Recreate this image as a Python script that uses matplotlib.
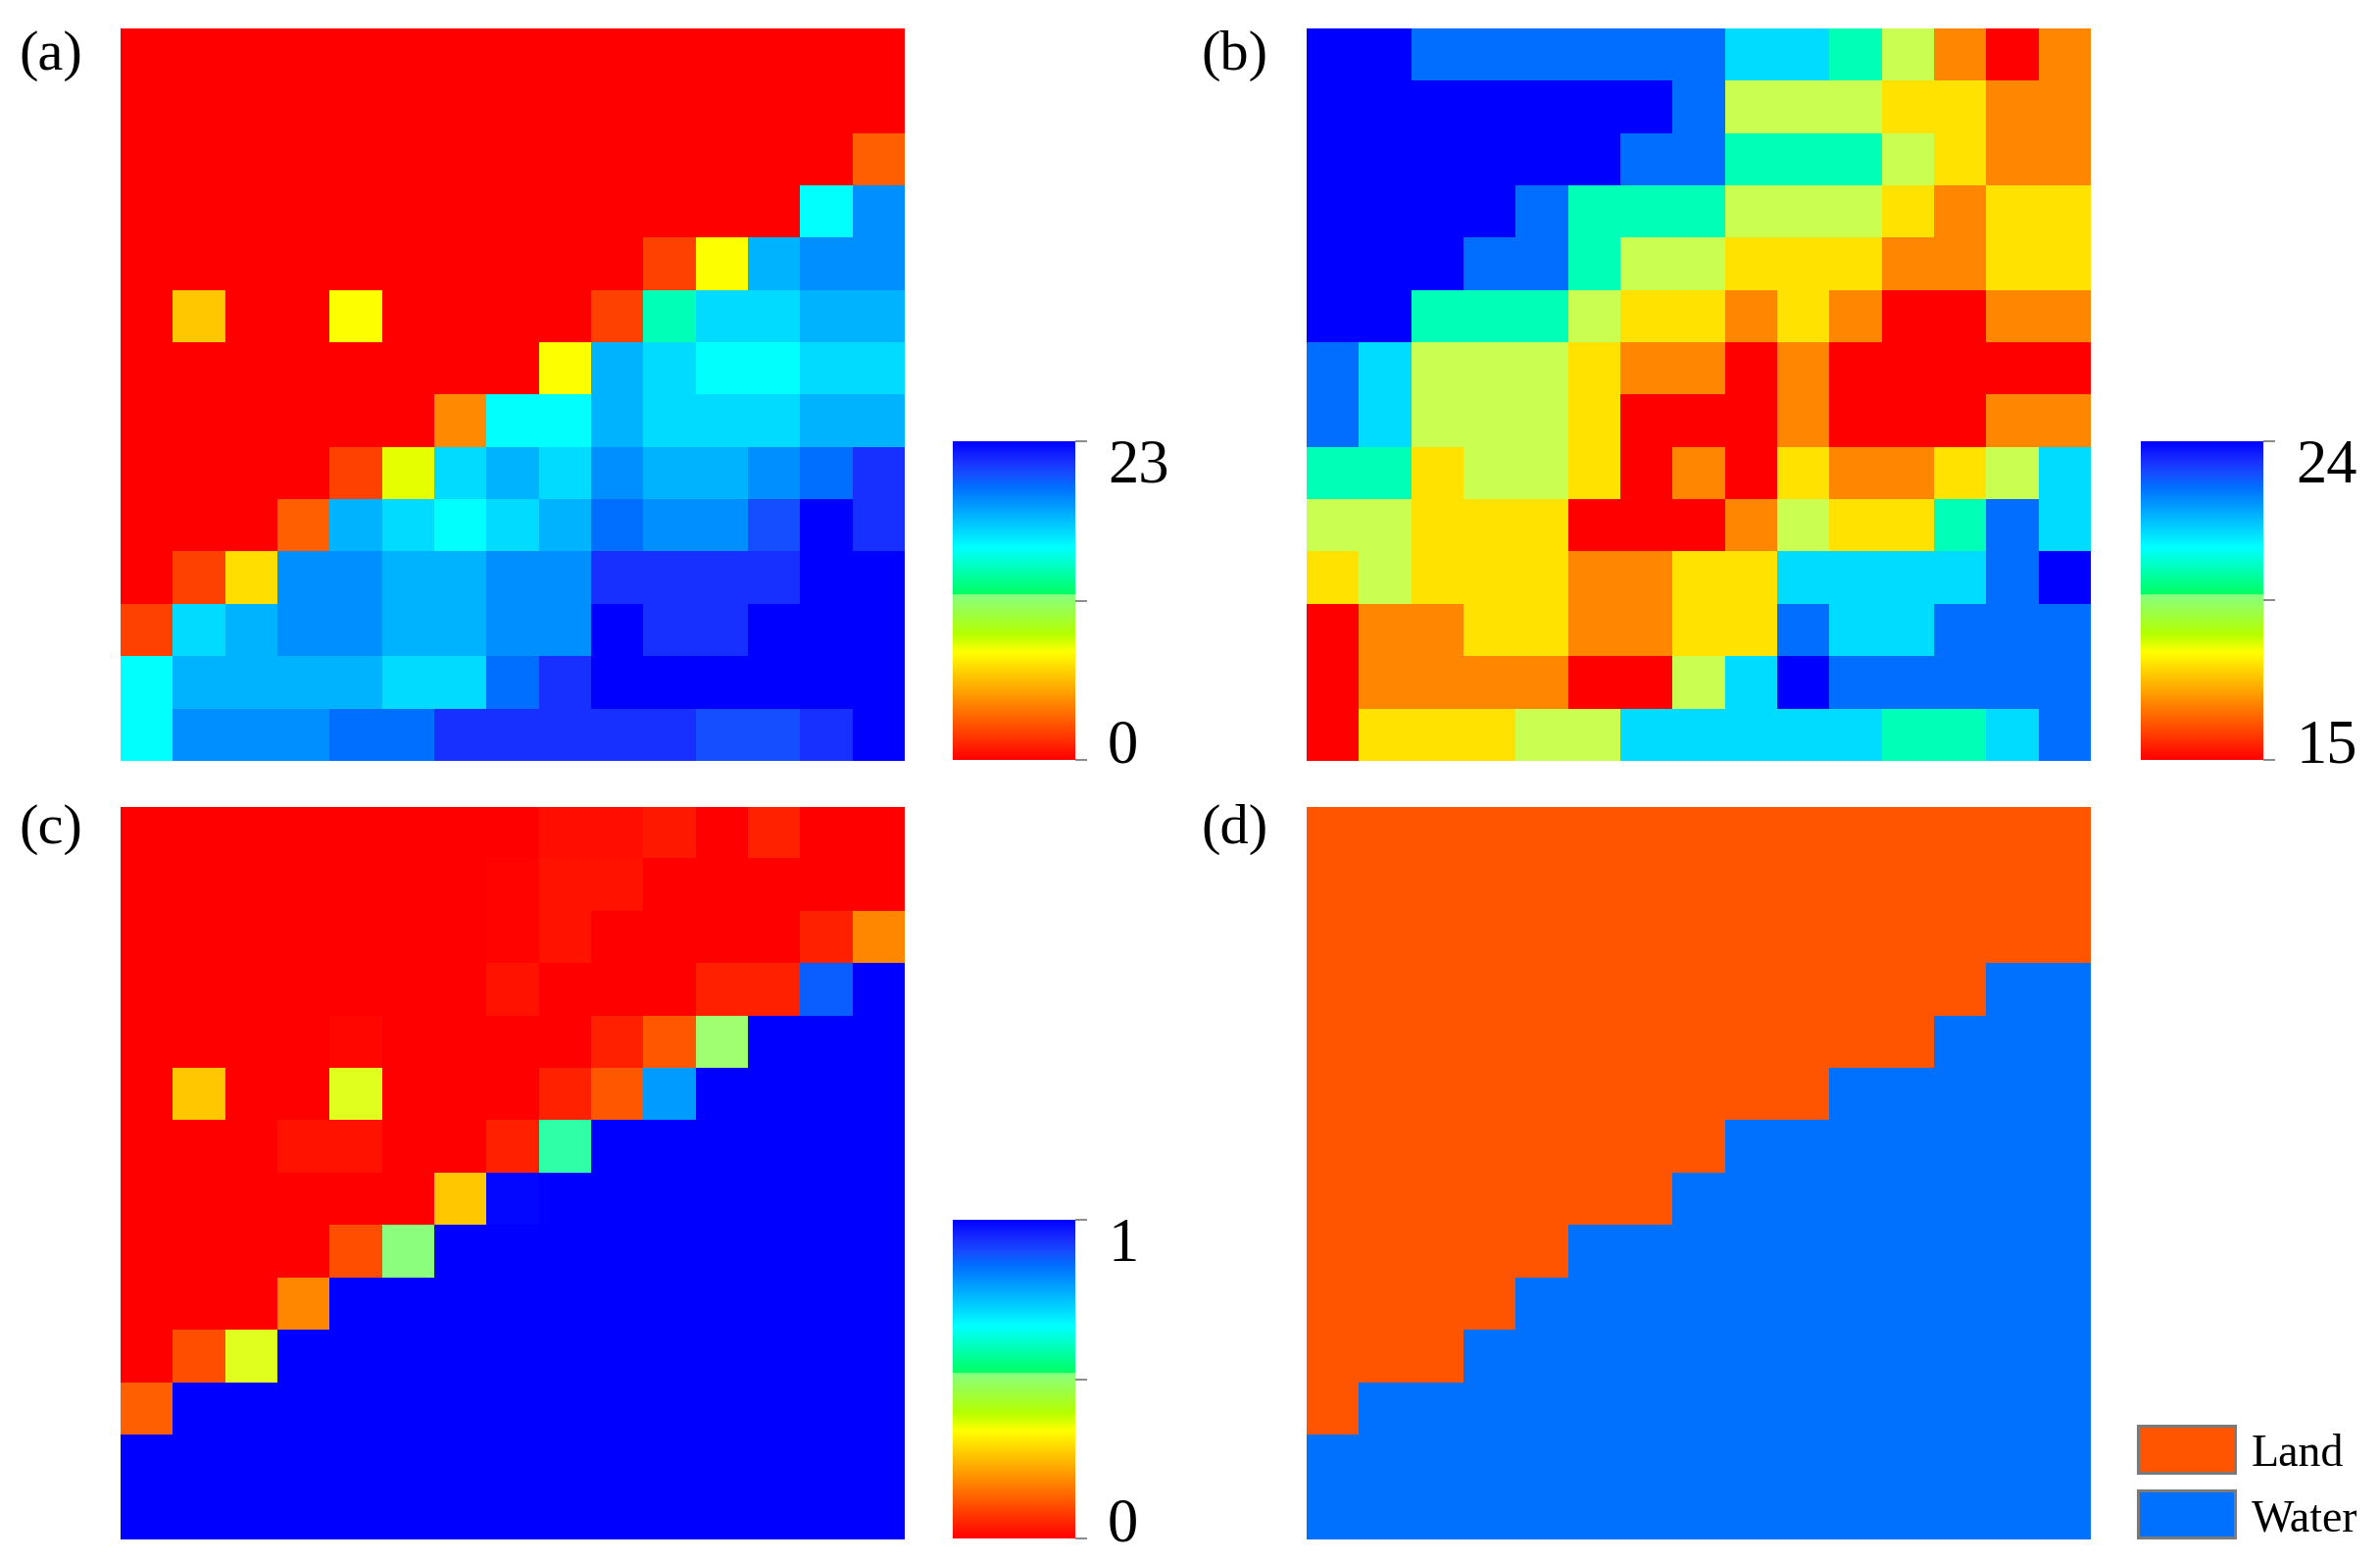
import matplotlib
matplotlib.use("Agg")
import numpy as np
import matplotlib.pyplot as plt
from matplotlib.colors import LinearSegmentedColormap, ListedColormap, Normalize
from matplotlib.cm import ScalarMappable
from matplotlib.patches import Rectangle

plt.rcParams['font.family'] = ['Liberation Serif', 'DejaVu Serif']

W, H = 2428, 1593

panel_a = [
    [0]*15,
    [0]*15,
    [0,0,0,0,0,0,0,0,0,0,0,0,0,0,2.9],
    [0,0,0,0,0,0,0,0,0,0,0,0,0,15.3,18.7],
    [0,0,0,0,0,0,0,0,0,0,2.0,7.8,17.6,18.7,18.7],
    [0,6.1,0,0,7.8,0,0,0,0,2.0,13.8,16.4,16.4,17.6,17.6],
    [0,0,0,0,0,0,0,0,7.8,17.6,16.4,15.3,15.3,16.4,16.4],
    [0,0,0,0,0,0,4.2,15.3,15.3,17.6,16.4,16.4,16.4,17.6,17.6],
    [0,0,0,0,2.0,8.2,16.4,17.6,16.4,18.7,17.6,17.6,18.7,19.65,21.55],
    [0,0,0,2.9,17.6,16.4,15.3,16.4,17.6,19.65,18.7,18.7,20.6,23,21.55],
    [0,2.0,6.8,18.7,18.7,17.6,17.6,18.7,18.7,21.55,21.55,21.55,21.55,23,23],
    [2.0,16.4,17.6,18.7,18.7,17.6,17.6,18.7,18.7,23,21.55,21.55,23,23,23],
    [15.3,17.6,17.6,17.6,17.6,16.4,16.4,19.65,21.55,23,23,23,23,23,23],
    [15.3,18.7,18.7,18.7,19.65,19.65,21.55,21.55,21.55,21.55,21.55,20.6,20.6,21.55,23],
]

panel_b = [
    [24,24,22.7,22.7,22.7,22.7,22.7,22.7,21.4,21.4,20.4,18.8,16.6,15,16.6],
    [24,24,24,24,24,24,24,22.7,18.8,18.8,18.8,17.7,17.7,16.6,16.6],
    [24,24,24,24,24,24,22.7,22.7,20.4,20.4,20.4,18.8,17.7,16.6,16.6],
    [24,24,24,24,22.7,20.4,20.4,20.4,18.8,18.8,18.8,17.7,16.6,17.7,17.7],
    [24,24,24,22.7,22.7,20.4,18.8,18.8,17.7,17.7,17.7,16.6,16.6,17.7,17.7],
    [24,24,20.4,20.4,20.4,18.8,17.7,17.7,16.6,17.7,16.6,15,15,16.6,16.6],
    [22.7,21.4,18.8,18.8,18.8,17.7,16.6,16.6,15,16.6,15,15,15,15,15],
    [22.7,21.4,18.8,18.8,18.8,17.7,15,15,15,16.6,15,15,15,16.6,16.6],
    [20.4,20.4,17.7,18.8,18.8,17.7,15,16.6,15,17.7,16.6,16.6,17.7,18.8,21.4],
    [18.8,18.8,17.7,17.7,17.7,15,15,15,16.6,18.8,17.7,17.7,20.4,22.7,21.4],
    [17.7,18.8,17.7,17.7,17.7,16.6,16.6,17.7,17.7,21.4,21.4,21.4,21.4,22.7,24],
    [15,16.6,16.6,17.7,17.7,16.6,16.6,17.7,17.7,22.7,21.4,21.4,22.7,22.7,22.7],
    [15,16.6,16.6,16.6,16.6,15,15,18.8,21.4,24,22.7,22.7,22.7,22.7,22.7],
    [15,17.7,17.7,17.7,18.8,18.8,21.4,21.4,21.4,21.4,21.4,20.4,20.4,21.4,22.7],
]

panel_c = [
    [0,0,0,0,0,0,0,0,.02,.02,.033,0,.045,0,0],
    [0,0,0,0,0,0,0,.005,.027,.027,0,0,0,0,0],
    [0,0,0,0,0,0,0,.005,.027,0,0,0,0,.043,.18],
    [0,0,0,0,0,0,0,.027,0,0,0,.043,.043,.875,1],
    [0,0,0,0,.01,0,0,0,0,.043,.117,.47,1,1,1],
    [0,.265,0,0,.36,0,0,0,.045,.117,.796,1,1,1,1],
    [0,0,0,.027,.027,0,0,.043,.58,1,1,1,1,1,1],
    [0,0,0,0,0,0,.265,.99,1,1,1,1,1,1,1],
    [0,0,0,0,.105,.51,1,1,1,1,1,1,1,1,1],
    [0,0,0,.18,1,1,1,1,1,1,1,1,1,1,1],
    [0,.105,.36,1,1,1,1,1,1,1,1,1,1,1,1],
    [.127,1,1,1,1,1,1,1,1,1,1,1,1,1,1],
    [1]*15,
    [1]*15,
]

land_columns = [15, 15, 15, 13, 12, 10, 8, 7, 5, 4, 3, 1, 0, 0]
class_names = ["Land", "Water"]
class_colors = ["#ff5500", "#0070ff"]

panel_labels = ["(a)", "(b)", "(c)", "(d)"]
range_a = (0, 23)
range_b = (15, 24)
range_c = (0, 1)

BASE_STOPS = [
    (0.0, "#ff0000"), (0.338, "#ffff00"), (0.395, "#b4ff00"), (0.517, "#88ff80"),
    (0.522, "#00ff64"), (0.667, "#00ffff"), (0.854, "#0070ff"), (0.895, "#1450ff"),
    (0.937, "#1830ff"), (1.0, "#0000ff"),
]


def make_cmap(extra=()):
    return LinearSegmentedColormap.from_list("rb", sorted(list(BASE_STOPS) + list(extra)), N=1024)


cmap_bar = make_cmap()
cmap_b_mesh = make_cmap([(0.42, "#ccff50")])
cmap_c_mesh = make_cmap([(0.36, "#e0ff20"), (0.47, "#a0ff70"), (0.58, "#30ffa8")])


def px_axes(fig, x0, y0, x1, y1):
    return fig.add_axes([x0 / W, 1 - y1 / H, (x1 - x0) / W, (y1 - y0) / H])


def heat(ax, data, cmap, norm):
    ax.imshow(np.array(data, dtype=float), cmap=cmap, norm=norm, aspect="auto", interpolation="nearest")
    ax.set_xticks([])
    ax.set_yticks([])
    for s in ax.spines.values():
        s.set_visible(False)


def bar(fig, x0, y0, x1, y1, vrange, top, bottom):
    cax = px_axes(fig, x0, y0, x1, y1)
    norm = Normalize(*vrange)
    cb = fig.colorbar(ScalarMappable(norm=norm, cmap=cmap_bar), cax=cax)
    cb.outline.set_visible(False)
    cb.set_ticks([vrange[0], (vrange[0] + vrange[1]) / 2, vrange[1]])
    cb.set_ticklabels(["", "", ""])
    cax.tick_params(axis="y", length=8.3, width=1.4, color="#8a8a8a", pad=0)
    lx = x0 + 158
    fig.text(lx / W, 1 - (y0 + 27) / H, top, fontsize=45, ha="left", va="center", color="black")
    fig.text(lx / W, 1 - (y1 - 12) / H, bottom, fontsize=45, ha="left", va="center", color="black")


fig = plt.figure(figsize=(W / 100, H / 100), dpi=100, facecolor="white")

XL = (122.5, 922.2)
XR = (1332.5, 2132.2)
YT = (29, 776)
YB = (822.5, 1570.5)

ax_a = px_axes(fig, XL[0], YT[0], XL[1], YT[1])
heat(ax_a, panel_a, cmap_bar, Normalize(*range_a))
ax_b = px_axes(fig, XR[0], YT[0], XR[1], YT[1])
heat(ax_b, panel_b, cmap_b_mesh, Normalize(*range_b))
ax_c = px_axes(fig, XL[0], YB[0], XL[1], YB[1])
heat(ax_c, panel_c, cmap_c_mesh, Normalize(*range_c))

panel_d = [[0 if j < n else 1 for j in range(15)] for n in land_columns]
ax_d = px_axes(fig, XR[0], YB[0], XR[1], YB[1])
heat(ax_d, panel_d, ListedColormap(class_colors), Normalize(0, 1))

bar(fig, 972, 450, 1097, 775, range_a, "23", "0")
bar(fig, 2184, 450, 2309, 775, range_b, "24", "15")
bar(fig, 972, 1244, 1097, 1569, range_c, "1", "0")

for lab, (x, y) in zip(panel_labels, [(19, 57), (1225, 57), (19, 846), (1225, 846)]):
    fig.text(x / W, 1 - y / H, lab, fontsize=42, ha="left", va="center", color="black")

for name, col, (y0, y1) in zip(class_names, class_colors, [(1454, 1502), (1520, 1568)]):
    fig.add_artist(Rectangle((2181 / W, 1 - y1 / H), 99 / W, (y1 - y0) / H, transform=fig.transFigure,
                             facecolor=col, edgecolor="#7a7a7a", linewidth=2.2))
    fig.text(2297 / W, 1 - ((y0 + y1) / 2 + 6) / H, name, fontsize=33, ha="left", va="center", color="black")

fig.savefig("out.png", dpi=100, facecolor="white")
